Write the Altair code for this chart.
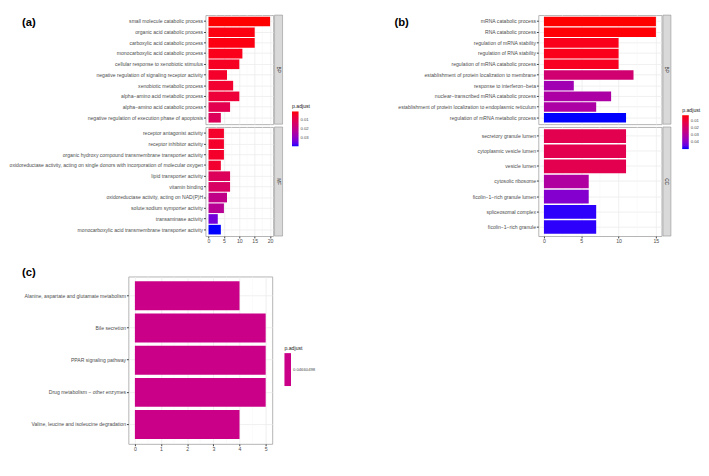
import altair as alt
import pandas as pd

# ---------------- data ----------------
a_bp_terms = [
    "small molecule catabolic process",
    "organic acid catabolic process",
    "carboxylic acid catabolic process",
    "monocarboxylic acid catabolic process",
    "cellular response to xenobiotic stimulus",
    "negative regulation of signaling receptor activity",
    "xenobiotic metabolic process",
    "alpha\u2212amino acid metabolic process",
    "alpha\u2212amino acid catabolic process",
    "negative regulation of execution phase of apoptosis",
]
a_bp_counts = [20, 15, 15, 11, 10, 6, 8, 10, 7, 4]
a_bp_padj = [0.0002, 0.0013, 0.0013, 0.0021, 0.0033, 0.0040, 0.0048, 0.0060, 0.0098, 0.0117]

a_mf_terms = [
    "receptor antagonist activity",
    "receptor inhibitor activity",
    "organic hydroxy compound transmembrane transporter activity",
    "oxidoreductase activity, acting on single donors with incorporation of molecular oxygen",
    "lipid transporter activity",
    "vitamin binding",
    "oxidoreductase activity, acting on NAD(P)H",
    "solute:sodium symporter activity",
    "transaminase activity",
    "monocarboxylic acid transmembrane transporter activity",
]
a_mf_counts = [5, 5, 5, 4, 7, 7, 6, 5, 3, 4]
a_mf_padj = [0.0040, 0.0040, 0.0040, 0.0048, 0.0117, 0.0130, 0.0194, 0.0213, 0.0328, 0.0385]

b_bp_terms = [
    "mRNA catabolic process",
    "RNA catabolic process",
    "regulation of mRNA stability",
    "regulation of RNA stability",
    "regulation of mRNA catabolic process",
    "establishment of protein localization to membrane",
    "response to interferon\u2212beta",
    "nuclear\u2212transcribed mRNA catabolic process",
    "establishment of protein localization to endoplasmic reticulum",
    "regulation of mRNA metabolic process",
]
b_bp_counts = [15, 15, 10, 10, 10, 12, 4, 9, 7, 11]
b_bp_padj = [0.0020, 0.0025, 0.0044, 0.0044, 0.0054, 0.0212, 0.0346, 0.0318, 0.0318, 0.0500]

b_cc_terms = [
    "secretory granule lumen",
    "cytoplasmic vesicle lumen",
    "vesicle lumen",
    "cytosolic ribosome",
    "ficolin\u22121\u2212rich granule lumen",
    "spliceosomal complex",
    "ficolin\u22121\u2212rich granule",
]
b_cc_counts = [11, 11, 11, 6, 6, 7, 7]
b_cc_padj = [0.0140, 0.0140, 0.0140, 0.0308, 0.0404, 0.0490, 0.0490]

c_terms = [
    "Alanine, aspartate and glutamate metabolism",
    "Bile secretion",
    "PPAR signaling pathway",
    "Drug metabolism \u2212 other enzymes",
    "Valine, leucine and isoleucine degradation",
]
c_counts = [4, 5, 5, 5, 4]
c_padj = [0.04660498, 0.04660498, 0.04660498, 0.04660498, 0.04660498]

# ---------------- styling ----------------
FONT = "Liberation Sans"
GRID = "#EBEBEB"
MINOR = "#F5F5F5"
FRAME = "#B0B0B0"
TXT = "#4D4D4D"
LBL = 5.4


def make_legend(x, y, values, fmt, length):
    return alt.Legend(
        title="p.adjust", orient="none", legendX=x, legendY=y, values=values,
        format=fmt, gradientLength=length, gradientThickness=7,
        titleFontSize=5.5, titleFontWeight="normal", titleColor="#1A1A1A",
        titlePadding=2, labelFontSize=4.5, labelColor=TXT, labelOffset=2,
        padding=0, gradientStrokeWidth=0,
    )


def panel(terms, counts, padj, strip, width, height, xdomain, xticks, xminor,
          cscale, legend, show_x, tag=None, tag_xy=(0, 0)):
    df = pd.DataFrame({"Description": terms, "Count": counts, "padj": padj})
    ysc = alt.Scale(domain=terms, paddingInner=0.1, paddingOuter=0.15)
    xsc = alt.Scale(domain=xdomain, nice=False, zero=False)
    xaxis = alt.Axis(values=xticks, title=None, labels=show_x, ticks=show_x,
                     domain=False, grid=True, gridColor=GRID, gridWidth=0.8,
                     labelFontSize=5.5, tickSize=2, labelPadding=1,
                     labelColor=TXT, tickColor="#333333")
    yaxis = alt.Axis(title=None, labelFontSize=LBL, labelLimit=1000, domain=False,
                     grid=True, gridColor=GRID, gridWidth=0.8, bandPosition=0.5,
                     tickSize=2, labelPadding=1, labelColor=TXT, tickColor="#333333")

    minor = alt.Chart(pd.DataFrame({"Count": xminor})).mark_rule(
        color=MINOR, strokeWidth=0.5
    ).encode(x=alt.X("Count:Q", scale=xsc, axis=xaxis))

    bars = alt.Chart(df).mark_bar().encode(
        y=alt.Y("Description:N", scale=ysc, axis=yaxis, sort=None),
        x=alt.X("Count:Q", scale=xsc, axis=xaxis),
        x2=alt.datum(0),
        color=alt.Color("padj:Q", scale=cscale, legend=legend, title="p.adjust"),
    )
    layers = [minor, bars]
    if strip:
        sdf = pd.DataFrame({"s": [strip]})
        rect = alt.Chart(sdf).mark_rect(fill="#D9D9D9", stroke="#8C8C8C", strokeWidth=0.6).encode(
            x=alt.value(width + 1.5), x2=alt.value(width + 10),
            y=alt.value(0), y2=alt.value(height))
        txt = alt.Chart(sdf).mark_text(angle=90, fontSize=5, color="#1A1A1A").encode(
            x=alt.value(width + 5.75), y=alt.value(height / 2), text="s:N")
        layers += [rect, txt]
    if tag:
        tdf = pd.DataFrame({"t": [tag]})
        t = alt.Chart(tdf).mark_text(fontSize=12, fontWeight="bold", align="left",
                                     baseline="middle", color="#000000").encode(
            x=alt.value(tag_xy[0]), y=alt.value(tag_xy[1]), text="t:N")
        layers.append(t)
    return alt.layer(*layers).properties(width=width, height=height)


# ---------------- panel (a) ----------------
# domain listed high -> low so the vertical colour bar shows low values (red) on top
a_scale = alt.Scale(domain=[0.0385, 0.0002], range=["#0000FF", "#FF0000"], interpolate="lab")
a_leg = make_legend(92, 95, [0.01, 0.02, 0.03], ".2f", 37)
A_W, A_H = 72, 116
a_bp = panel(a_bp_terms, a_bp_counts, a_bp_padj, "BP", A_W, A_H, [-1, 21],
             [0, 5, 10, 15, 20], [2.5, 7.5, 12.5, 17.5], a_scale, a_leg, False,
             tag="(a)", tag_xy=(-195, 8))
a_mf = panel(a_mf_terms, a_mf_counts, a_mf_padj, "MF", A_W, A_H, [-1, 21],
             [0, 5, 10, 15, 20], [2.5, 7.5, 12.5, 17.5], a_scale, a_leg, True)
A = alt.vconcat(a_bp, a_mf, spacing=3, bounds="flush")

# ---------------- panel (b) ----------------
b_scale = alt.Scale(domain=[0.0500, 0.0020], range=["#0000FF", "#FF0000"], interpolate="lab")
b_leg = make_legend(153, 99, [0.01, 0.02, 0.03, 0.04], ".2f", 36)
B_W = 131
b_bp = panel(b_bp_terms, b_bp_counts, b_bp_padj, "BP", B_W, A_H, [-0.75, 15.75],
             [0, 5, 10, 15], [2.5, 7.5, 12.5], b_scale, b_leg, False,
             tag="(b)", tag_xy=(-153, 8))
b_cc = panel(b_cc_terms, b_cc_counts, b_cc_padj, "CC", B_W, A_H, [-0.75, 15.75],
             [0, 5, 10, 15], [2.5, 7.5, 12.5], b_scale, b_leg, True)
B = alt.vconcat(b_bp, b_cc, spacing=3, bounds="flush")

AB = alt.hconcat(A, B, spacing=88).resolve_scale(color="independent")

# invisible spacer: shifts the upper row 82 px right of panel (c)'s plot origin
spacer = alt.Chart(pd.DataFrame({"z": [0]})).mark_point(opacity=0, size=1).encode(
    x=alt.value(0), y=alt.value(0)
).properties(width=82, height=1, view=alt.ViewBackground(stroke="transparent"))

top = alt.hconcat(spacer, AB, spacing=0, bounds="flush").resolve_scale(color="independent")

# ---------------- panel (c) ----------------
c_mid = 0.04660498
c_scale = alt.Scale(domain=[c_mid - 0.001, c_mid + 0.001], range=["#CA0089", "#CA0089"])
C_W, C_H = 153, 178
c_leg = make_legend(166, 74, [c_mid], ".8f", 35)
C = panel(c_terms, c_counts, c_padj, None, C_W, C_H, [-0.25, 5.25],
          [0, 1, 2, 3, 4, 5], [0.5, 1.5, 2.5, 3.5, 4.5], c_scale, c_leg, True,
          tag="(c)", tag_xy=(-113, -4))

chart = alt.vconcat(top, C, spacing=23).resolve_scale(
    color="independent"
).properties(padding={"left": 0, "top": -8, "right": 0, "bottom": 0}).configure(
    font=FONT).configure_view(stroke=FRAME, strokeWidth=1)

chart.save("out.html", embed_options={"renderer": "svg", "actions": False})
